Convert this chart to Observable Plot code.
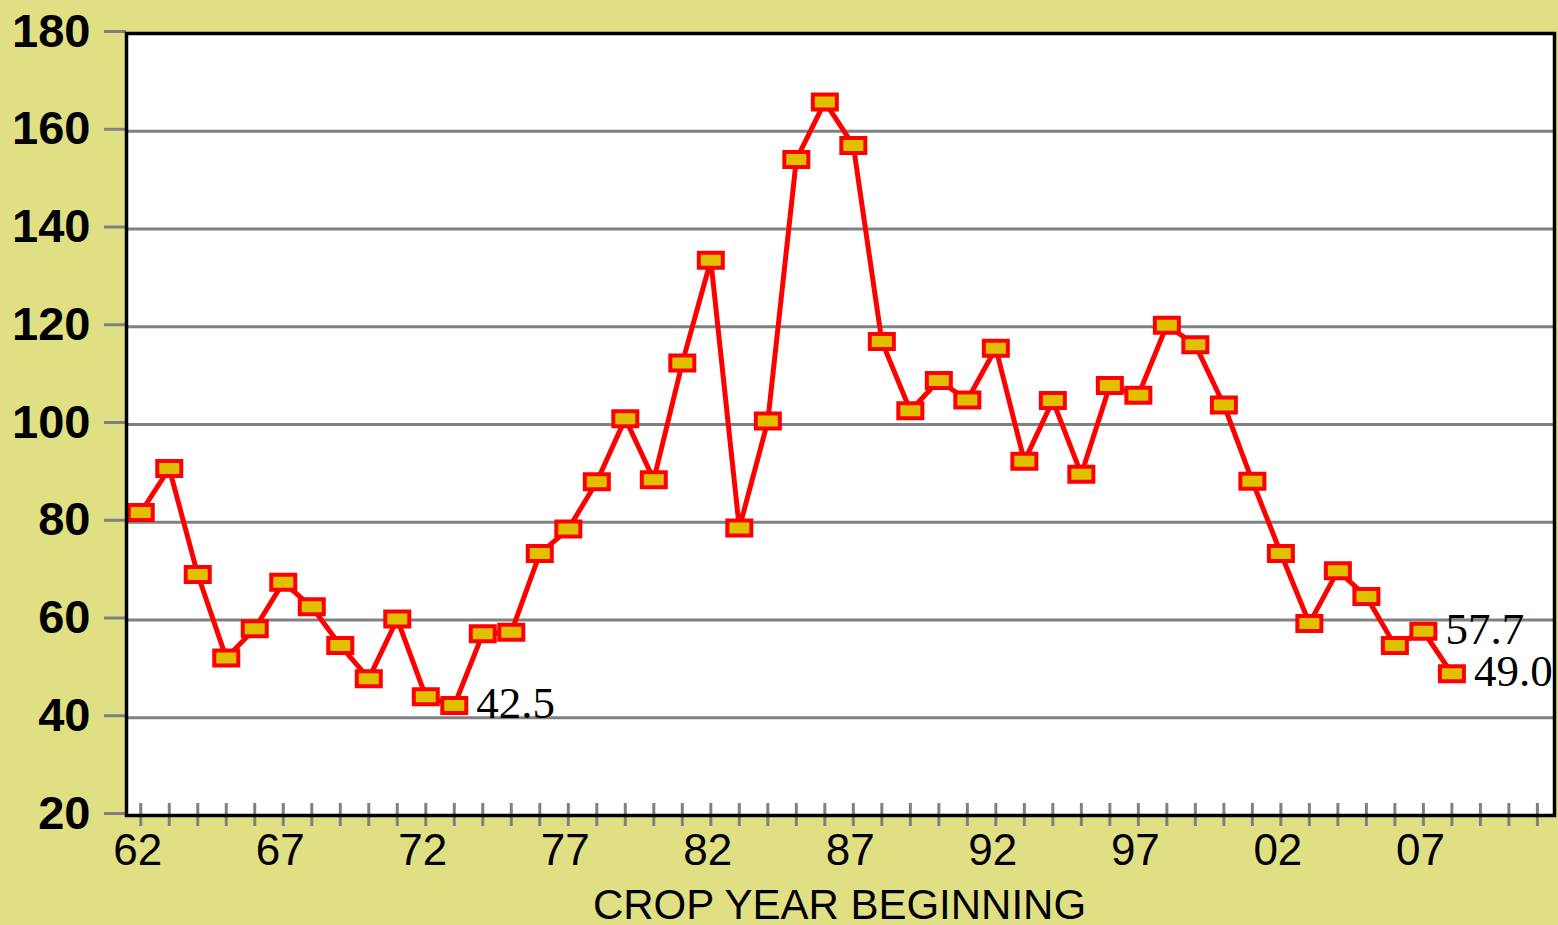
<!DOCTYPE html>
<html>
<head>
<meta charset="utf-8">
<script src="https://cdn.jsdelivr.net/npm/d3@7"></script>
<script src="https://cdn.jsdelivr.net/npm/@observablehq/plot@0.6"></script>
<style>
  html, body { margin: 0; padding: 0; background: #e0df84; }
  #chart { width: 1558px; height: 925px; overflow: hidden; }
</style>
</head>
<body>
<div id="chart"></div>
<script>
// Crop years (beginning) and values
const years = d3.range(1962, 2009);
const values = [
  82, 91, 69.3, 52.2, 58.2, 67.7, 62.7, 54.8, 48, 60.2,
  44.3, 42.5, 57.2, 57.5, 73.6, 78.6, 88.3, 101.2, 88.7, 112.6,
  133.6, 78.8, 100.7, 154.2, 166, 157.1, 117, 102.8, 109, 105,
  115.6, 92.5, 104.9, 89.8, 108, 106, 120.3, 116.3, 104, 88.4,
  73.6, 59.3, 70.1, 64.8, 54.8, 57.7, 49.0
];
const yTicks = [20, 40, 60, 80, 100, 120, 140, 160, 180];
const xTickYears = d3.range(1962, 2012);
const xLabelYears = [1962, 1967, 1972, 1977, 1982, 1987, 1992, 1997, 2002, 2007];
const labelYears = [1973, 2007, 2008];
const labelTexts = ["42.5", "57.7", "49.0"];
const axisTitle = "CROP YEAR BEGINNING";

const data = years.map((year, i) => ({year, value: values[i]}));
const labels = labelYears.map((year, i) => ({year, value: values[years.indexOf(year)], text: labelTexts[i]}));

const rectSymbol = {
  draw(ctx) {
    ctx.moveTo(-12, -7.5);
    ctx.lineTo(12, -7.5);
    ctx.lineTo(12, 7.5);
    ctx.lineTo(-12, 7.5);
    ctx.closePath();
  }
};

const chart = Plot.plot({
  width: 1558,
  height: 925,
  marginLeft: 126,
  marginRight: 4,
  marginTop: 33,
  marginBottom: 110,
  style: {background: "transparent", fontFamily: "Liberation Sans, Arial, sans-serif", overflow: "visible"},
  x: {domain: [1961.5, 2011.6], axis: null},
  y: {domain: [20, 180], axis: null},
  marks: [
    Plot.frame({fill: "white"}),
    Plot.ruleY(yTicks.slice(1, -1), {stroke: "#808080", strokeWidth: 3}),
    Plot.axisY({
      ticks: yTicks, tickSize: 22, tickPadding: 14, tickFormat: d => String(d),
      stroke: "#808080", strokeWidth: 3, fill: "black",
      fontSize: 47, fontWeight: "bold", dy: -2, label: null
    }),
    Plot.axisX({
      ticks: xTickYears, tickSize: 23, dy: -12, text: null,
      stroke: "#808080", strokeWidth: 3, label: null
    }),
    Plot.axisX({
      ticks: xLabelYears, tickSize: 0, tickPadding: 18,
      tickFormat: d => String(d).slice(2), fill: "black",
      fontSize: 44, dx: -3, label: null
    }),
    Plot.text([axisTitle], {
      frameAnchor: "bottom", dy: 103, lineAnchor: "bottom",
      fontSize: 42, fill: "black", dx: -1
    }),
    Plot.line(data, {x: "year", y: "value", stroke: "#ff0000", strokeWidth: 5}),
    Plot.dot(data, {x: "year", y: "value", symbol: rectSymbol, fill: "#e0c000", stroke: "#ff0000", strokeWidth: 4}),
    Plot.text(labels, {
      x: "year", y: "value", text: "text", textAnchor: "start", lineAnchor: "middle",
      dx: 22, dy: -2, fontSize: 45, fontFamily: "Liberation Serif, Times New Roman, serif",
      fill: "black", clip: true
    }),
    Plot.frame({stroke: "black", strokeWidth: 3.5})
  ]
});

document.getElementById("chart").appendChild(chart);
</script>
</body>
</html>
